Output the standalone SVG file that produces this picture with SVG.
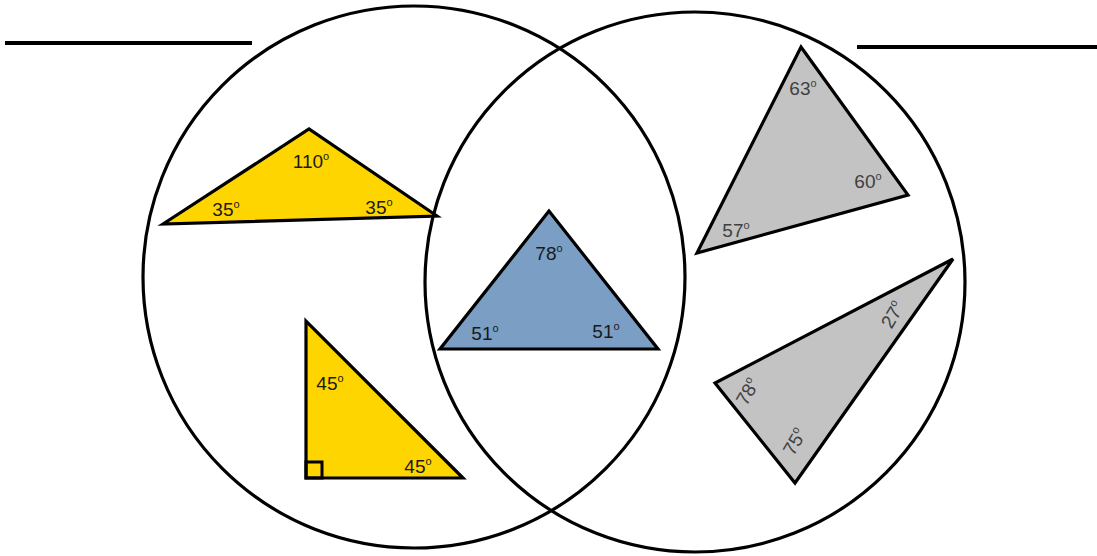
<svg xmlns="http://www.w3.org/2000/svg" width="1097" height="556" viewBox="0 0 1097 556">
<style>
.ring{fill:none;stroke:#000;stroke-width:3.2}
.tri{stroke:#000;stroke-width:3.2;stroke-linejoin:miter}
.yel{fill:#ffd500}
.blu{fill:#7b9fc4}
.gry{fill:#c3c3c3}
.lbl{font-family:"Liberation Sans",Arial,sans-serif;font-size:19px;fill:#1a1a1a;text-anchor:middle}
.glbl{font-family:"Liberation Sans",Arial,sans-serif;font-size:19px;fill:#404040;text-anchor:middle}
.deg{font-size:11px}
.line{stroke:#000;stroke-width:4}
</style>
<rect width="1097" height="556" fill="#fff"/>
<g id="triangle-110">
<polygon class="tri yel" points="163,224 309,129 437,216"/>
<text class="lbl" x="311" y="168">110<tspan class="deg" dy="-8">o</tspan></text>
<text class="lbl" x="226" y="216">35<tspan class="deg" dy="-8">o</tspan></text>
<text class="lbl" x="379" y="214">35<tspan class="deg" dy="-8">o</tspan></text>
</g>
<g id="triangle-right">
<polygon class="tri yel" points="306,321 306,478 463,478"/>
<rect x="306" y="462" width="16" height="16" fill="none" stroke="#000" stroke-width="3"/>
<text class="lbl" x="330" y="390">45<tspan class="deg" dy="-8">o</tspan></text>
<text class="lbl" x="418" y="473">45<tspan class="deg" dy="-8">o</tspan></text>
</g>
<g id="triangle-blue">
<polygon class="tri blu" points="549,211 440,349 658,349"/>
<text class="lbl" x="549" y="260">78<tspan class="deg" dy="-8">o</tspan></text>
<text class="lbl" x="485" y="340">51<tspan class="deg" dy="-8">o</tspan></text>
<text class="lbl" x="606" y="338">51<tspan class="deg" dy="-8">o</tspan></text>
</g>
<g id="triangle-gray-1">
<polygon class="tri gry" points="801,47 908,195 697,253"/>
<text class="glbl" x="803" y="95">63<tspan class="deg" dy="-8">o</tspan></text>
<text class="glbl" x="868" y="188">60<tspan class="deg" dy="-8">o</tspan></text>
<text class="glbl" x="736" y="237">57<tspan class="deg" dy="-8">o</tspan></text>
</g>
<g id="triangle-gray-2">
<polygon class="tri gry" points="953,259 715,383 795,483"/>
<text class="glbl" x="893" y="321" transform="rotate(-60 893 315)">27<tspan class="deg" dy="-8">o</tspan></text>
<text class="glbl" x="748" y="398" transform="rotate(-60 748 392)">78<tspan class="deg" dy="-8">o</tspan></text>
<text class="glbl" x="795" y="448" transform="rotate(-60 795 442)">75<tspan class="deg" dy="-8">o</tspan></text>
</g>
<g id="circle-left">
<circle class="ring" cx="414" cy="277" r="271"/>
</g>
<g id="circle-right">
<circle class="ring" cx="695" cy="282" r="270"/>
</g>
<g id="connectors">
<line class="line" x1="5" y1="43" x2="252" y2="43"/>
<line class="line" x1="857" y1="47" x2="1097" y2="47"/>
</g>
</svg>
